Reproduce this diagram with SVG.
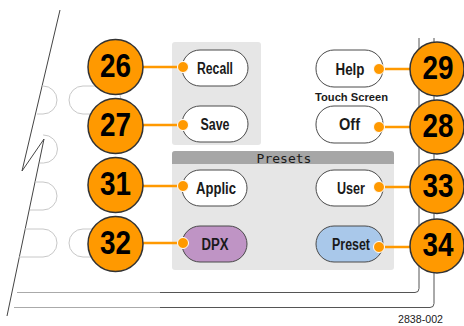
<svg xmlns="http://www.w3.org/2000/svg" width="464" height="326" viewBox="0 0 464 326">
<style>
.bg{fill:#ffffff}
.frame{fill:none;stroke:#555;stroke-width:1}
.frameL{fill:none;stroke:#aaa;stroke-width:1}
.ghost{fill:none;stroke:#c8c8c8;stroke-width:1}
.panel{fill:#e6e6e6}
.hdr{fill:#a6a6a6}
.btn{fill:#ffffff;stroke:#4a4a4a;stroke-width:1}
.dpx{fill:#bf94c5}
.pre{fill:#a9c8ea}
.bt{font-family:"Liberation Sans",Arial,sans-serif;font-weight:bold;font-size:16px;fill:#1a1a1a;text-anchor:middle}
.num circle{fill:#ff9900;stroke:#333;stroke-width:1.5}
.num text{font-family:"Liberation Sans",Arial,sans-serif;font-weight:bold;font-size:33px;fill:#000;text-anchor:middle}
.conn line{stroke:#ff9900;stroke-width:2.5}
.conn circle{fill:#ff9900;stroke:#fff;stroke-width:1}
</style>
<rect class="bg" x="0" y="0" width="464" height="326"/>
<g id="frame">
<polyline points="60,10 22,171 44,139 7,316" fill="none" stroke="#444" stroke-width="1"/>
<path class="frameL" d="M17 292.5 H160"/>
<path class="frame" d="M160 292.5 H415 Q419 292.5 419 288.5 V38"/>
<path class="frameL" d="M14 307.5 H160"/>
<path class="frame" d="M160 307.5 H430 Q434 307.5 434 303.5 V38"/>
<path class="ghost" d="M42 86 H43 A14 14 0 0 1 43 114 H37"/>
<path class="ghost" d="M44 135 H43.5 A14 14 0 0 1 43.5 163 H40"/>
<path class="ghost" d="M35 182 H43 A14 14 0 0 1 43 210 H30"/>
<path class="ghost" d="M25 229 H43 A14 14 0 0 1 43 257 H19"/>
<rect class="ghost" x="69" y="86" width="52" height="28" rx="14"/>
<rect class="ghost" x="69" y="229" width="52" height="28" rx="14"/>
</g>
<g id="panel-top"><rect class="panel" x="172" y="42" width="89" height="103" rx="3"/></g>
<g id="panel-presets">
<rect class="panel" x="172" y="151" width="222" height="119" rx="3"/>
<path class="hdr" d="M172 164 V154 Q172 151 175 151 H391 Q394 151 394 154 V164 Z"/>
<text x="284" y="162.5" font-family="'DejaVu Sans Mono','Liberation Mono',monospace" font-size="13" fill="#1a1a1a" text-anchor="middle">Presets</text>
</g>
<g id="btn-recall"><rect class="btn" x="182" y="50" width="66" height="36" rx="18"/><text class="bt" x="215" y="74" textLength="36" lengthAdjust="spacingAndGlyphs">Recall</text></g>
<g id="btn-save"><rect class="btn" x="182" y="106" width="66" height="36" rx="18"/><text class="bt" x="215" y="129.5" textLength="29" lengthAdjust="spacingAndGlyphs">Save</text></g>
<g id="btn-help"><rect class="btn" x="316" y="50" width="67" height="37" rx="18"/><text class="bt" x="350" y="75" textLength="29" lengthAdjust="spacingAndGlyphs">Help</text></g>
<g id="touch-label"><text x="351.5" y="100.5" font-family="'Liberation Sans',Arial,sans-serif" font-weight="bold" font-size="11" fill="#1a1a1a" text-anchor="middle" textLength="73" lengthAdjust="spacingAndGlyphs">Touch Screen</text></g>
<g id="btn-off"><rect class="btn" x="316" y="106" width="67" height="37" rx="18"/><text class="bt" x="349.5" y="130" textLength="21" lengthAdjust="spacingAndGlyphs" font-weight="900">Off</text></g>
<g id="btn-applic"><rect class="btn" x="182" y="170" width="65" height="36" rx="18"/><text class="bt" x="216" y="193.5" textLength="40" lengthAdjust="spacingAndGlyphs">Applic</text></g>
<g id="btn-user"><rect class="btn" x="316" y="170" width="67" height="36" rx="18"/><text class="bt" x="351" y="194" textLength="28" lengthAdjust="spacingAndGlyphs">User</text></g>
<g id="btn-dpx"><rect class="btn dpx" x="182" y="226" width="65" height="36" rx="18"/><text class="bt" x="215" y="250" textLength="27" lengthAdjust="spacingAndGlyphs">DPX</text></g>
<g id="btn-preset"><rect class="btn pre" x="316" y="226" width="67" height="36" rx="18"/><text class="bt" x="351" y="250" textLength="38" lengthAdjust="spacingAndGlyphs">Preset</text></g>
<g id="connectors" class="conn">
<line x1="143" y1="67" x2="183" y2="67"/><circle cx="183" cy="67" r="5.5"/>
<line x1="143" y1="125" x2="183" y2="125"/><circle cx="183" cy="125" r="5.5"/>
<line x1="143" y1="186" x2="183" y2="186"/><circle cx="183" cy="186" r="5.5"/>
<line x1="143" y1="243" x2="183" y2="243"/><circle cx="183" cy="243" r="5.5"/>
<line x1="379" y1="69" x2="410" y2="69"/><circle cx="379" cy="69" r="5.5"/>
<line x1="379" y1="127" x2="410" y2="127"/><circle cx="379" cy="127" r="5.5"/>
<line x1="379" y1="187" x2="410" y2="187"/><circle cx="379" cy="187" r="5.5"/>
<line x1="379" y1="247" x2="410" y2="247"/><circle cx="379" cy="247" r="5.5"/>
</g>
<g id="n26" class="num"><circle cx="115.5" cy="67" r="27.5"/><text x="115.5" y="77" textLength="31" lengthAdjust="spacingAndGlyphs">26</text></g>
<g id="n27" class="num"><circle cx="115.5" cy="126" r="27.5"/><text x="115.5" y="136" textLength="31" lengthAdjust="spacingAndGlyphs">27</text></g>
<g id="n31" class="num"><circle cx="115.5" cy="185" r="27.5"/><text x="115.5" y="195" textLength="31" lengthAdjust="spacingAndGlyphs">31</text></g>
<g id="n32" class="num"><circle cx="115.5" cy="244" r="27.5"/><text x="115.5" y="254" textLength="31" lengthAdjust="spacingAndGlyphs">32</text></g>
<g id="n29" class="num"><circle cx="437" cy="69" r="27"/><text x="438" y="79" textLength="31" lengthAdjust="spacingAndGlyphs">29</text></g>
<g id="n28" class="num"><circle cx="437" cy="127" r="27"/><text x="438" y="137" textLength="31" lengthAdjust="spacingAndGlyphs">28</text></g>
<g id="n33" class="num"><circle cx="437" cy="186.5" r="27"/><text x="438" y="196.5" textLength="31" lengthAdjust="spacingAndGlyphs">33</text></g>
<g id="n34" class="num"><circle cx="437" cy="246" r="27"/><text x="438" y="256" textLength="31" lengthAdjust="spacingAndGlyphs">34</text></g>
<g id="figure-id"><text x="420.5" y="323" font-family="'Liberation Sans',Arial,sans-serif" font-size="11" fill="#1a1a1a" text-anchor="middle" textLength="45" lengthAdjust="spacingAndGlyphs">2838-002</text></g>
</svg>
